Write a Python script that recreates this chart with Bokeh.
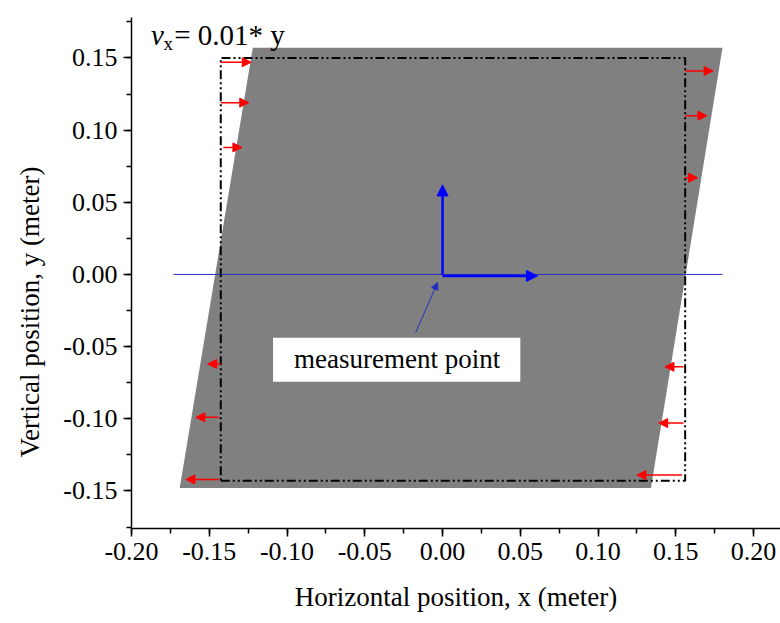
from bokeh.plotting import figure
from bokeh.models import (Arrow, NormalHead, ColumnDataSource, Label, Title,
                          SingleIntervalTicker, NumeralTickFormatter, Range1d)
from bokeh.embed import file_html
from bokeh.resources import INLINE

# ---- data ----
# sheared (deformed) body outline
shape_x = [-0.169, 0.134, 0.180, -0.122]
shape_y = [-0.148, -0.148, 0.157, 0.157]
# original (undeformed) body, dash-dot rectangle
rect_x = [-0.1426, 0.156, 0.156, -0.1426, -0.1426]
rect_y = [-0.143, -0.143, 0.150, 0.150, -0.143]
# red velocity arrows, left side
left_y = [0.147, 0.119, 0.088, -0.062, -0.099, -0.142]
left_x0 = [-0.1426, -0.1426, -0.141, -0.1426, -0.1439, -0.1439]
left_x1 = [-0.123, -0.1246, -0.129, -0.151, -0.1586, -0.165]
# red velocity arrows, right side
right_y = [0.141, 0.110, 0.067, -0.064, -0.103, -0.139]
right_x0 = [0.156, 0.156, 0.156, 0.155, 0.155, 0.154]
right_x1 = [0.174, 0.170, 0.164, 0.143, 0.139, 0.125]
# blue centre line
hline_x = [-0.173, 0.180]
hline_y = [0.0, 0.0]
# measurement point axes
axis_len_x = 0.061
axis_len_y = 0.062

FONT = "Liberation Serif"

p = figure(width=780, height=623,
           x_range=Range1d(-0.2, 0.2173), y_range=Range1d(-0.176, 0.178),
           output_backend="svg", toolbar_location=None,
           min_border_left=130, min_border_top=17, min_border_right=0,
           min_border_bottom=95)
p.grid.visible = False
p.outline_line_color = None
p.background_fill_color = "white"

# deformed body
p.patch(shape_x, shape_y, fill_color="#808080", line_color=None)

# thin blue horizontal line
p.line(hline_x, hline_y, line_color="#2030c0", line_width=1)

# original body outline
p.line(rect_x, rect_y, line_color="black", line_width=2, line_dash="9 3 2 3 2 3")

# red arrows
src_l = ColumnDataSource(dict(x0=left_x0, x1=left_x1, y=left_y))
src_r = ColumnDataSource(dict(x0=right_x0, x1=right_x1, y=right_y))
for src in (src_l, src_r):
    p.add_layout(Arrow(x_start="x0", y_start="y", x_end="x1", y_end="y", source=src,
                       line_color="#ff0000", line_width=1.5,
                       end=NormalHead(size=9, fill_color="#ff0000", line_color="#ff0000")))

# blue measurement axes
p.add_layout(Arrow(x_start=0, y_start=0, x_end=0, y_end=axis_len_y,
                   line_color="#0000ff", line_width=2.5,
                   end=NormalHead(size=11, fill_color="#0000ff", line_color="#0000ff")))
p.add_layout(Arrow(x_start=0, y_start=-0.001, x_end=axis_len_x, y_end=-0.001,
                   line_color="#0000ff", line_width=2.5,
                   end=NormalHead(size=11, fill_color="#0000ff", line_color="#0000ff")))

# annotation box
p.quad(left=[-0.109], right=[0.050], top=[-0.0438], bottom=[-0.0743],
       fill_color="white", line_color=None)
p.add_layout(Arrow(x_start=-0.0173, y_start=-0.0403, x_end=-0.0032, y_end=-0.0056,
                   line_color="#2030c0", line_width=1,
                   end=NormalHead(size=7, fill_color="#2030c0", line_color="#2030c0")))
p.add_layout(Label(x=-0.0292, y=-0.0585, text="measurement point",
                   text_font=FONT, text_font_size="27px", text_color="black",
                   text_font_style="normal",
                   text_align="center", text_baseline="middle"))

# title formula
p.add_layout(Label(x=-0.1875, y=0.166, text="v", text_font=FONT,
                   text_font_style="italic", text_font_size="29px",
                   text_color="black", text_baseline="alphabetic"))
p.add_layout(Label(x=-0.1795, y=0.160, text="x", text_font=FONT,
                   text_font_size="19px", text_color="black",
                   text_font_style="normal", text_baseline="alphabetic"))
p.add_layout(Label(x=-0.1725, y=0.166, text="= 0.01* y", text_font=FONT,
                   text_font_size="29px", text_color="black",
                   text_font_style="normal", text_baseline="alphabetic"))

# axes
for ax in (p.xaxis[0], p.yaxis[0]):
    ax.ticker = SingleIntervalTicker(interval=0.05, num_minor_ticks=2)
    ax.formatter = NumeralTickFormatter(format="0.00")
    ax.axis_line_width = 1.5
    ax.axis_line_color = "black"
    ax.major_tick_line_width = 1.5
    ax.minor_tick_line_width = 1.5
    ax.major_tick_in = 0
    ax.major_tick_out = 8
    ax.minor_tick_in = 0
    ax.minor_tick_out = 5
    ax.major_label_text_font = FONT
    ax.major_label_text_font_size = "26px"
    ax.major_label_text_font_style = "normal"
    ax.major_label_text_color = "black"
    ax.major_label_standoff = 6
    ax.axis_label_text_font = FONT
    ax.axis_label_text_font_size = "27px"
    ax.axis_label_text_font_style = "normal"
    ax.axis_label_text_color = "black"

p.xaxis.axis_label = "Horizontal position, x (meter)"
p.xaxis.axis_label_standoff = 19

# vertical axis title, placed where the reference has it
p.add_layout(Title(text="Vertical position, y (meter)", align="left", offset=71,
                   vertical_align="top", standoff=28,
                   text_font=FONT, text_font_size="27px", text_font_style="normal",
                   text_color="black"), "left")

open("out.html", "w").write(file_html(p, INLINE))
